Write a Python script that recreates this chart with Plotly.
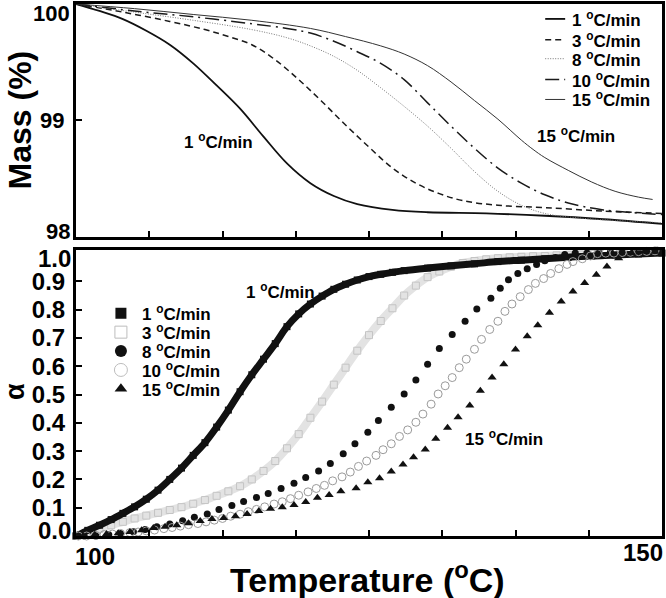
import plotly.graph_objects as go

# ---------------- data ----------------
# Top panel: mass (%) vs temperature (deg C)
m1_T = [100, 102, 104, 106, 108, 110, 112, 114, 116, 118, 120, 122, 124, 127, 130, 135, 140, 145, 150]
m1 = [100.0, 99.94, 99.87, 99.77, 99.65, 99.49, 99.30, 99.10, 98.86, 98.63, 98.46, 98.35, 98.28, 98.23, 98.21, 98.20, 98.18, 98.15, 98.11]
m3_T = [100, 104, 108, 111, 113, 115, 117, 119, 121, 123, 125, 127, 129, 131, 133, 136, 140, 145, 150]
m3 = [100.0, 99.93, 99.85, 99.78, 99.72, 99.65, 99.52, 99.35, 99.16, 98.96, 98.77, 98.59, 98.46, 98.37, 98.31, 98.27, 98.25, 98.22, 98.20]
m8_T = [100, 105, 110, 115, 118, 120, 122, 124, 126, 128, 130, 132, 134, 136, 138, 140, 143, 146, 150]
m8 = [100.0, 99.93, 99.86, 99.78, 99.71, 99.64, 99.55, 99.43, 99.28, 99.12, 98.95, 98.76, 98.56, 98.39, 98.27, 98.20, 98.16, 98.14, 98.12]
m10_T = [100, 105, 110, 115, 118, 120, 122, 124, 126, 128, 130, 132, 134, 136, 138, 140, 142, 145, 150]
m10 = [100.0, 99.94, 99.89, 99.83, 99.79, 99.75, 99.68, 99.59, 99.49, 99.35, 99.15, 98.95, 98.76, 98.59, 98.46, 98.36, 98.29, 98.23, 98.19]
m15_T = [100, 105, 110, 115, 120, 123, 126, 128, 130, 132, 134, 136, 138, 139, 140, 142, 144, 146, 148, 149.2]
m15 = [100.0, 99.96, 99.91, 99.86, 99.79, 99.72, 99.64, 99.57, 99.47, 99.33, 99.17, 99.01, 98.83, 98.75, 98.68, 98.57, 98.47, 98.39, 98.34, 98.32]

# Bottom panel: conversion alpha vs temperature
a1_T = [100, 101, 102, 103, 104, 105, 106, 107, 108, 109, 110, 111, 112, 113, 114, 115, 116, 117, 118, 119,
        120, 121, 122, 123, 124, 125, 126, 127, 128, 130, 132, 134, 136, 138, 140, 142, 144, 146, 148, 150]
a1 = [0.0, 0.02, 0.038, 0.058, 0.08, 0.103, 0.13, 0.162, 0.2, 0.24, 0.285, 0.33, 0.385, 0.445, 0.51, 0.57, 0.625,
      0.68, 0.74, 0.785, 0.82, 0.848, 0.872, 0.89, 0.905, 0.917, 0.925, 0.932, 0.938, 0.947, 0.955, 0.962, 0.97,
      0.975, 0.98, 0.985, 0.99, 0.993, 0.997, 1.0]
a3_T = [100, 101, 102, 103, 104, 105, 106, 107, 108, 109, 110, 111, 112, 113, 114, 115, 116, 117, 118, 119, 120,
        121, 122, 123, 124, 125, 126, 127, 128, 129, 130, 131, 132, 133, 134, 135, 136, 137, 138, 139, 140, 141,
        142, 143, 144]
a3 = [0.0, 0.012, 0.025, 0.038, 0.05, 0.062, 0.072, 0.082, 0.092, 0.102, 0.114, 0.127, 0.142, 0.158, 0.176, 0.2,
      0.23, 0.265, 0.31, 0.36, 0.418, 0.475, 0.535, 0.595, 0.655, 0.71, 0.76, 0.805, 0.85, 0.885, 0.915, 0.935,
      0.952, 0.965, 0.972, 0.978, 0.982, 0.985, 0.987, 0.989, 0.99, 0.992, 0.994, 0.995, 0.997]
a8_T = [100.7, 101.7, 102.8, 103.8, 104.9, 105.9, 106.9, 108.0, 109.1, 110.1, 111.2, 112.2, 113.3, 114.3, 115.4, 116.4,
        117.5, 118.6, 119.6, 120.7, 121.7, 122.8, 123.8, 124.9, 125.8, 126.9, 128.0, 129.0, 130.0, 131.0, 132.1, 133.2,
        134.2, 135.4, 136.2, 136.9, 137.7, 138.5, 139.3, 140.0, 140.9, 141.7, 142.6, 143.6, 144.6, 145.6, 146.6, 147.6, 148.6, 149.6]
a8 = [0.0, 0.0, 0.004, 0.009, 0.015, 0.023, 0.033, 0.042, 0.054, 0.066, 0.078, 0.094, 0.108, 0.122, 0.136, 0.150,
      0.168, 0.186, 0.207, 0.230, 0.256, 0.291, 0.326, 0.367, 0.408, 0.455, 0.502, 0.551, 0.607, 0.663, 0.712, 0.759,
      0.802, 0.84, 0.876, 0.906, 0.928, 0.945, 0.96, 0.973, 0.984, 0.995, 1.0, 1.0, 1.002, 1.004, 1.005, 1.006, 1.008, 1.01]
a10_T = [100.2, 100.9, 101.7, 102.4, 103.1, 103.8, 104.6, 105.3, 106.0, 106.7, 107.5, 108.2, 108.9, 109.6, 110.4, 111.1,
         111.8, 112.5, 113.2, 114.0, 114.7, 115.4, 116.1, 116.9, 117.6, 118.3, 119.0, 119.8, 120.5, 121.2, 121.9, 122.7,
         123.4, 124.1, 124.8, 125.6, 126.2, 126.9, 127.6, 128.3, 129.0, 129.6, 130.3, 130.9, 131.5, 132.1, 132.7, 133.3,
         134.0, 134.6, 135.3, 136.0, 136.6, 137.2, 137.9, 138.6, 139.2, 139.9, 140.5, 141.2, 141.9, 142.4, 143.2, 143.9,
         144.5, 145.2, 145.9, 146.6, 147.3, 148.0, 148.7, 149.4]
a10 = [0.0, 0.0, 0.002, 0.005, 0.007, 0.009, 0.012, 0.014, 0.018, 0.021, 0.026, 0.030, 0.035, 0.040, 0.044, 0.050,
       0.056, 0.062, 0.070, 0.077, 0.086, 0.094, 0.103, 0.113, 0.121, 0.132, 0.144, 0.156, 0.168, 0.179, 0.195, 0.209,
       0.226, 0.246, 0.265, 0.285, 0.305, 0.326, 0.352, 0.375, 0.402, 0.431, 0.466, 0.502, 0.531, 0.56, 0.595, 0.625,
       0.66, 0.695, 0.73, 0.759, 0.794, 0.82, 0.846, 0.871, 0.893, 0.91, 0.928, 0.945, 0.96, 0.97, 0.98, 0.99,
       0.998, 1.0, 1.0, 1.002, 1.003, 1.005, 1.006, 1.008]
a15_T = [100.6, 101.6, 102.6, 103.6, 104.6, 105.6, 106.6, 107.6, 108.6, 109.6, 110.6, 111.6, 112.6, 113.6, 114.6, 115.6,
         116.6, 117.6, 118.6, 119.6, 120.6, 121.6, 122.6, 123.9, 124.9, 125.9, 126.9, 127.9, 128.8, 129.8, 130.7, 131.7,
         132.6, 133.6, 134.5, 135.5, 136.5, 137.5, 138.5, 139.4, 140.4, 141.4, 142.4, 143.4, 144.4, 145.3, 146.3, 147.4,
         148.5, 149.4]
a15 = [0.0, 0.004, 0.007, 0.01, 0.014, 0.02, 0.028, 0.033, 0.038, 0.045, 0.053, 0.06, 0.064, 0.07, 0.078, 0.088,
       0.096, 0.102, 0.11, 0.12, 0.135, 0.145, 0.158, 0.169, 0.19, 0.204, 0.228, 0.253, 0.278, 0.306, 0.344, 0.383,
       0.42, 0.461, 0.513, 0.56, 0.607, 0.659, 0.706, 0.745, 0.789, 0.829, 0.864, 0.894, 0.923, 0.953, 0.982, 0.999,
       1.005, 1.005]

rates = ["1", "3", "8", "10", "15"]
x_tickvals = [106.25, 112.5, 118.75, 125.0, 131.25, 137.5, 143.75]
a_tickvals = [0.1, 0.2, 0.3, 0.4, 0.5, 0.6, 0.7, 0.8, 0.9]
a_ticktext = ["0.1", "0.2", "0.3", "0.4", "0.5", "0.6", "0.7", "0.8", "0.9"]

# ---------------- figure ----------------
W, H = 666, 598
L, R, T, B = 76, 3, 1, 62
PW, PH = W - L - R, H - T - B

def px(x):
    return (x - L) / PW

def py(y):
    return (T + PH - y) / PH

FONT = "Liberation Sans, Arial, sans-serif"
fig = go.Figure()

top_styles = [
    dict(color="#111111", width=1.8, dash="solid"),
    dict(color="#1a1a1a", width=1.5, dash="6px,4px"),
    dict(color="#777777", width=1.0, dash="1px,1.5px"),
    dict(color="#1a1a1a", width=1.5, dash="14px,5px,2px,5px"),
    dict(color="#333333", width=1.0, dash="solid"),
]
for (xs, ys), st in zip([(m1_T, m1), (m3_T, m3), (m8_T, m8), (m10_T, m10), (m15_T, m15)], top_styles):
    fig.add_trace(go.Scatter(x=xs, y=ys, mode="lines", line=dict(shape="spline", smoothing=1.0, **st),
                             showlegend=False, xaxis="x", yaxis="y", cliponaxis=True, hoverinfo="skip"))

# bottom panel
fig.add_trace(go.Scatter(x=a3_T, y=a3, mode="lines+markers",
                         line=dict(color="#e3e3e3", width=8, shape="spline"),
                         marker=dict(symbol="square-open", size=7, color="#c4c4c4", line=dict(width=1)),
                         showlegend=False, xaxis="x2", yaxis="y2", cliponaxis=False, hoverinfo="skip"))
fig.add_trace(go.Scatter(x=a1_T, y=a1, mode="lines+markers",
                         line=dict(color="#111111", width=7, shape="spline"),
                         marker=dict(symbol="square", size=7, color="#111111"),
                         showlegend=False, xaxis="x2", yaxis="y2", cliponaxis=False, hoverinfo="skip"))
fig.add_trace(go.Scatter(x=a8_T, y=a8, mode="markers", marker=dict(symbol="circle", size=7, color="#111111"),
                         showlegend=False, xaxis="x2", yaxis="y2", cliponaxis=False, hoverinfo="skip"))
fig.add_trace(go.Scatter(x=a10_T, y=a10, mode="markers",
                         marker=dict(symbol="circle-open", size=8, color="#9a9a9a", line=dict(width=1)),
                         showlegend=False, xaxis="x2", yaxis="y2", cliponaxis=False, hoverinfo="skip"))
fig.add_trace(go.Scatter(x=a15_T, y=a15, mode="markers", marker=dict(symbol="triangle-up", size=8, color="#111111"),
                         showlegend=False, xaxis="x2", yaxis="y2", cliponaxis=False, hoverinfo="skip"))

# bottom legend markers on an overlay paper-like axis
leg_y = [py(312), py(331), py(350), py(369), py(388)]
leg_syms = [dict(symbol="square", size=11, color="#111111"),
            dict(symbol="square-open", size=12, color="#bdbdbd", line=dict(width=1)),
            dict(symbol="circle", size=12, color="#111111"),
            dict(symbol="circle-open", size=13, color="#bdbdbd", line=dict(width=1)),
            dict(symbol="triangle-up", size=11, color="#111111")]
for yy, ms in zip(leg_y, leg_syms):
    fig.add_trace(go.Scatter(x=[px(121)], y=[yy], mode="markers", marker=ms, showlegend=False,
                             xaxis="x3", yaxis="y3", cliponaxis=False, hoverinfo="skip"))

axis_common = dict(showline=True, linecolor="black", linewidth=3, mirror=True, showgrid=False, zeroline=False,
                   ticks="inside", tickcolor="black", tickwidth=2, ticklen=6)
fig.update_layout(
    width=W, height=H, margin=dict(l=L, r=R, t=T, b=B),
    paper_bgcolor="white", plot_bgcolor="rgba(0,0,0,0)",
    font=dict(family=FONT, color="black"),
    xaxis=dict(domain=[0, 1], range=[100, 150], anchor="y", tickvals=x_tickvals, showticklabels=False, **axis_common),
    yaxis=dict(domain=[py(235), 1], range=[98, 100], anchor="x", tickvals=[99], ticktext=["99"],
               tickfont=dict(size=22, family=FONT, weight="bold"), ticklabelstandoff=4, **axis_common),
    xaxis2=dict(domain=[0, 1], range=[100, 150], anchor="y2", tickvals=x_tickvals, showticklabels=False, **axis_common),
    yaxis2=dict(domain=[0, py(248)], range=[0, 1.0123], anchor="x2", tickvals=a_tickvals, ticktext=a_ticktext,
                tickfont=dict(size=24, family=FONT, weight="bold"), ticklabelstandoff=3, **axis_common),
    xaxis3=dict(domain=[0, 1], range=[0, 1], anchor="y3", visible=False, fixedrange=True),
    yaxis3=dict(domain=[0, 1], range=[0, 1], anchor="x3", visible=False, fixedrange=True),
    showlegend=False,
)

ann = []
def text(x, y, s, size, xanchor="center", angle=0, color="black"):
    ann.append(dict(x=px(x), y=py(y), xref="paper", yref="paper", text=s, showarrow=False, xanchor=xanchor,
                    yanchor="middle", textangle=angle, font=dict(size=size, family=FONT, weight="bold", color=color)))

text(20, 118, "Mass (%)", 32, angle=-90)
text(15, 391, "α", 27, angle=-90)
text(368, 578, "Temperature (<sup>o</sup>C)", 34)
text(95.5, 557, "100", 24)
text(644, 553, "150", 24)
text(51.5, 11, "100", 22)
text(57.5, 230, "98", 22)
text(54.5, 257, "1.0", 24)
text(54.5, 530, "0.0", 24)
text(219, 139, "1 <sup>o</sup>C/min", 17)
text(577, 133, "15 <sup>o</sup>C/min", 17)
text(281, 290, "1 <sup>o</sup>C/min", 17)
text(505, 437, "15 <sup>o</sup>C/min", 17)

# top legend (line samples + labels)
leg_top_y = [16, 37, 56, 77, 97]
shapes = []
for yy, st, r in zip(leg_top_y, top_styles, rates):
    shapes.append(dict(type="line", xref="paper", yref="paper", x0=px(546), x1=px(566), y0=py(yy), y1=py(yy),
                       line=st))
    text(571, yy, f"{r} <sup>o</sup>C/min", 17, xanchor="left")
for yy, r in zip([312, 331, 350, 369, 388], rates):
    text(140, yy, f"{r} <sup>o</sup>C/min", 17, xanchor="left")

fig.update_layout(annotations=ann, shapes=shapes)
fig.write_html("out.html", config={"displayModeBar": False},
               post_script="document.body.style.margin='0';document.body.style.overflow='hidden';")
